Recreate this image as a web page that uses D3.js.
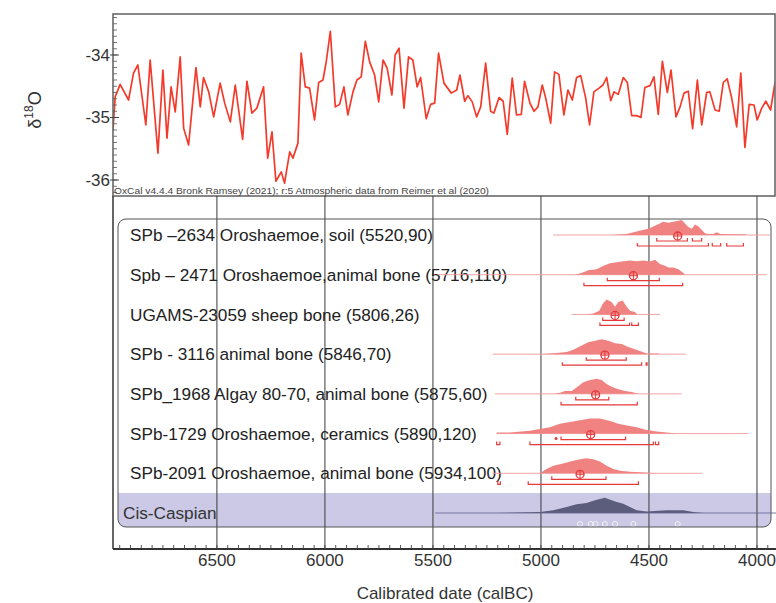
<!DOCTYPE html>
<html><head><meta charset="utf-8">
<script src="https://cdn.jsdelivr.net/npm/d3@7/dist/d3.min.js"></script>
<style>body{margin:0;background:#fff}svg{display:block}text{font-family:"Liberation Sans",Arial,sans-serif}</style>
</head><body><svg id="c" width="776" height="603"></svg>
<script>
// ---------- DATA ----------
const xTickValues = [6500, 6000, 5500, 5000, 4500, 4000];
const yTickValues = [-34, -35, -36];
const xTitle = "Calibrated date (calBC)";
const creditText = "OxCal v4.4.4 Bronk Ramsey (2021); r:5 Atmospheric data from Reimer et al (2020)";

// δ18O curve: calBC year, value
const d18oYears = [6981,6971,6948,6909,6886,6866,6829,6809,6773,6750,6731,6712,6693,6670,6654,6631,6597,6577,6562,6538,6515,6485,6464,6438,6415,6381,6361,6338,6315,6284,6265,6245,6227,6202,6187,6163,6148,6125,6110,6091,6071,6048,6029,6009,5994,5975,5952,5932,5912,5894,5870,5852,5832,5813,5793,5770,5751,5731,5712,5690,5675,5657,5634,5613,5593,5573,5557,5531,5511,5492,5474,5449,5415,5390,5375,5353,5338,5318,5298,5279,5256,5233,5218,5194,5175,5156,5133,5113,5091,5076,5051,5032,5014,4994,4978,4955,4937,4917,4894,4875,4855,4835,4816,4793,4775,4755,4731,4713,4696,4677,4662,4642,4619,4600,4580,4557,4537,4519,4495,4477,4457,4438,4415,4398,4375,4356,4338,4318,4298,4276,4256,4233,4218,4194,4175,4156,4138,4117,4094,4075,4056,4036,4014,3999,3978,3959,3937,3916];
const d18oValues = [-35.2,-34.67,-34.47,-34.72,-34.29,-34.16,-35.12,-34.08,-35.57,-34.24,-35.33,-34.51,-34.91,-34.03,-35.17,-35.44,-34.20,-34.83,-34.36,-34.59,-34.99,-34.45,-34.77,-35.07,-34.48,-35.35,-34.42,-34.93,-34.85,-34.51,-35.65,-35.23,-36.02,-35.87,-36.05,-35.55,-35.65,-35.41,-33.97,-34.51,-34.53,-35.04,-34.44,-34.40,-34.11,-33.62,-34.83,-34.79,-34.51,-34.96,-34.59,-34.40,-34.35,-33.78,-34.11,-34.32,-34.75,-34.08,-34.21,-34.64,-34.00,-33.89,-34.85,-34.03,-34.08,-34.51,-34.36,-35.02,-34.79,-34.77,-33.97,-34.45,-34.61,-34.56,-34.32,-34.74,-34.65,-34.75,-34.99,-34.83,-34.13,-34.90,-34.93,-34.68,-34.74,-35.27,-34.37,-34.96,-34.95,-34.42,-34.77,-34.90,-34.83,-34.48,-34.69,-35.09,-34.27,-34.31,-34.96,-34.56,-34.72,-34.36,-34.33,-34.69,-35.12,-34.59,-34.53,-34.48,-34.36,-34.73,-34.59,-34.63,-34.36,-34.44,-34.97,-34.97,-35.00,-34.52,-34.49,-34.35,-34.95,-34.10,-34.60,-34.24,-34.99,-34.83,-34.61,-34.58,-35.18,-34.40,-35.12,-34.60,-34.59,-34.88,-34.90,-34.44,-34.38,-34.69,-35.15,-34.29,-35.48,-34.79,-34.80,-35.04,-34.85,-34.74,-34.88,-34.43];

const sampleLabels = [
  "SPb \u20132634 Oroshaemoe, soil (5520,90)",
  "Spb \u2013 2471 Oroshaemoe,animal bone (5716,110)",
  "UGAMS-23059 sheep bone (5806,26)",
  "SPb - 3116 animal bone (5846,70)",
  "SPb_1968 Algay 80-70, animal bone (5875,60)",
  "SPb-1729 Oroshaemoe, ceramics (5890,120)",
  "SPb-2091 Oroshaemoe, animal bone (5934,100)"
];
const sumLabel = "Cis-Caspian";

// baseline extent [from, to] (calBC)
const sampleBaselines = [[4944,3940],[5480,3955],[4858,4449],[5224,4329],[5213,4349],[5205,4040],[5225,4253]];
// mean (marker) position
const sampleMeans = [4367, 4572, 4657, 4704, 4747, 4770, 4819];
// probability densities: [year, relative height]
const sampleDensities = [
  [[4680,0],[4603,0.07],[4549,0.26],[4503,0.42],[4457,0.72],[4434,0.88],[4410,0.81],[4387,0.88],[4364,0.95],[4349,1.0],[4333,0.77],[4318,0.53],[4302,0.42],[4287,0.70],[4272,0.58],[4256,0.35],[4241,0.12],[4225,0.07],[4202,0.07],[4186,0.19],[4171,0.07],[4110,0.05],[4055,0.05],[4048,0]],
  [[4843,0],[4812,0.12],[4781,0.29],[4742,0.36],[4711,0.60],[4680,0.76],[4649,0.83],[4619,0.90],[4588,0.95],[4557,0.90],[4526,0.95],[4495,0.88],[4472,1.0],[4449,0.71],[4426,0.60],[4410,0.48],[4387,0.48],[4364,0.36],[4341,0.12],[4333,0]],
  [[4789,0],[4758,0.07],[4730,0.24],[4714,0.71],[4696,1.0],[4673,0.83],[4657,0.52],[4642,0.83],[4622,0.93],[4603,0.52],[4588,0.24],[4565,0.17],[4554,0]],
  [[5005,0],[4927,0.08],[4881,0.15],[4850,0.30],[4812,0.57],[4781,0.79],[4750,0.89],[4719,1.0],[4688,0.89],[4657,0.72],[4626,0.68],[4596,0.47],[4572,0.36],[4542,0.21],[4511,0.04],[4457,0.04],[4449,0]],
  [[4940,0],[4912,0.07],[4889,0.19],[4858,0.19],[4835,0.42],[4804,0.77],[4773,0.93],[4742,1.0],[4719,0.93],[4696,0.65],[4673,0.47],[4642,0.30],[4611,0.19],[4580,0.12],[4549,0]],
  [[5205,0.07],[5143,0.07],[5051,0.19],[5005,0.30],[4958,0.42],[4912,0.65],[4866,0.77],[4819,0.88],[4773,1.0],[4727,1.0],[4680,0.84],[4642,0.65],[4603,0.53],[4557,0.42],[4511,0.23],[4464,0.14],[4418,0.07],[4372,0]],
  [[5005,0],[4974,0.28],[4943,0.50],[4912,0.61],[4881,0.72],[4850,0.83],[4819,0.93],[4789,1.0],[4758,0.93],[4727,0.78],[4696,0.50],[4665,0.28],[4634,0.17],[4588,0.11],[4542,0.07],[4457,0]]
];
// 68.2% ranges
const sample1Sigma = [
  [[4464,4322],[4299,4256]],
  [[4693,4452]],
  [[4714,4615]],
  [[4790,4605]],
  [[4839,4686]],
  [[4907,4608]],
  [[4950,4699]]
];
// 95.4% ranges
const sample2Sigma = [
  [[4554,4225],[4207,4168],[4140,4063]],
  [[4801,4344]],
  [[4727,4590],[4580,4549]],
  [[4901,4534],[4513,4509]],
  [[4907,4554]],
  [[5205,5190],[5051,4480],[4470,4455]],
  [[5200,5188],[5059,4549]]
];
// single outlying points
const sample1SigmaDots = [[],[],[],[],[],[4930],[]];

// summed distribution for Cis-Caspian
const sumBaseline = [5490, 3912];
const sumDensity = [[5205,0],[5005,0.06],[4943,0.17],[4881,0.38],[4835,0.54],[4789,0.63],[4750,0.79],[4704,0.96],[4680,0.83],[4649,0.69],[4619,0.58],[4588,0.38],[4557,0.17],[4511,0.10],[4418,0.17],[4341,0.17],[4295,0.06],[4249,0]];

// ---------- LAYOUT ----------
const svg = d3.select("#c");
const L = 113, R = 776, topT = 14, topB = 196, axisY = 549;
const x = d3.scaleLinear().domain([6981, 3912]).range([L, R]);
const y = d3.scaleLinear().domain([-34, -36]).range([55, 180]);
const rowNames = sampleLabels.concat([sumLabel]);
const rowY = d3.scalePoint().domain(d3.range(rowNames.length)).range([235, 513]);
const hScale = d3.scaleLinear().domain([0, 1]).range([0, 15]);

const redLine = "#f43a2a", pink = "#f08282", bracketRed = "#e5393a";
const labelSize = 17.2;

// ---------- TOP PANEL ----------
svg.append("defs").append("clipPath").attr("id", "clipTop")
  .append("rect").attr("x", L).attr("y", topT).attr("width", 775 - L).attr("height", topB - topT);

const line = d3.line().x(d => x(d[0])).y(d => y(d[1]));
svg.append("path")
  .datum(d3.zip(d18oYears, d18oValues))
  .attr("clip-path", "url(#clipTop)")
  .attr("d", line).attr("fill", "none").attr("stroke", redLine)
  .attr("stroke-width", 1.7).attr("stroke-linejoin", "round");

svg.append("rect").attr("x", L).attr("y", topT).attr("width", 775 - L).attr("height", topB - topT)
  .attr("fill", "none").attr("stroke", "#6a6a6a").attr("stroke-width", 1.6);

// y ticks
const minorY = d3.range(-33.4, -36.25, -0.1);
svg.append("g").selectAll("line").data(minorY).join("line")
  .attr("x1", L).attr("x2", L + 4).attr("y1", d => y(d)).attr("y2", d => y(d))
  .attr("stroke", "#555").attr("stroke-width", 0.8);
svg.append("g").selectAll("line").data(yTickValues).join("line")
  .attr("x1", L - 3).attr("x2", L + 6).attr("y1", d => y(d)).attr("y2", d => y(d))
  .attr("stroke", "#444").attr("stroke-width", 1);
svg.append("g").selectAll("text").data(yTickValues).join("text")
  .attr("x", L - 3).attr("y", d => y(d)).attr("dy", "0.35em")
  .attr("text-anchor", "end").attr("font-size", 17).attr("fill", "#333")
  .text(d => d);

const yl = svg.append("text").attr("transform", "translate(41,110) rotate(-90)")
  .attr("text-anchor", "middle").attr("font-size", 18).attr("fill", "#333");
yl.append("tspan").text("\u03b4");
yl.append("tspan").attr("font-size", 12).attr("dy", -8).text("18");
yl.append("tspan").attr("dy", 8).text("O");

svg.append("text").attr("x", L + 1).attr("y", 194).attr("font-size", 9).attr("fill", "#444")
  .attr("textLength", 375).attr("lengthAdjust", "spacingAndGlyphs").text(creditText);

// ---------- BOTTOM PANEL ----------
const boxL = 118, boxR = 771, boxT = 219, boxB = 527, rad = 8;
const bandT = 493;
svg.append("path").attr("d",
  `M${boxL},${bandT} H${boxR} V${boxB - rad} Q${boxR},${boxB} ${boxR - rad},${boxB} H${boxL + rad} Q${boxL},${boxB} ${boxL},${boxB - rad} Z`)
  .attr("fill", "#cbc9e5");

// grid lines
svg.append("g").selectAll("line").data(xTickValues).join("line")
  .attr("x1", d => x(d)).attr("x2", d => x(d)).attr("y1", topB).attr("y2", axisY)
  .attr("stroke", "#3a3a3a").attr("stroke-width", 1);

// rows
const rows = svg.append("g").selectAll("g").data(sampleLabels).join("g")
  .attr("transform", (d, i) => `translate(0,${rowY(i)})`);

rows.append("text").attr("x", 130).attr("y", 0).attr("dy", "0.36em")
  .attr("font-size", labelSize).attr("fill", "#222").text(d => d);

rows.append("line")
  .attr("x1", (d, i) => x(sampleBaselines[i][0])).attr("x2", (d, i) => x(sampleBaselines[i][1]))
  .attr("y1", 0).attr("y2", 0).attr("stroke", "#f29a9a").attr("stroke-width", 0.9);

const area = d3.area().x(d => x(d[0])).y0(0).y1(d => -hScale(d[1])).curve(d3.curveLinear);
rows.append("path").attr("d", (d, i) => area(sampleDensities[i])).attr("fill", pink);

function bracket(g, ranges, dy) {
  g.selectAll(null).data(ranges).join("path")
    .attr("d", r => `M${x(r[0])},${dy - 3} V${dy} H${x(r[1])} V${dy - 3}`)
    .attr("fill", "none").attr("stroke", bracketRed).attr("stroke-width", 1.2);
}
rows.each(function (d, i) {
  const g = d3.select(this);
  bracket(g, sample1Sigma[i], 6);
  bracket(g, sample2Sigma[i], 11);
  g.selectAll(null).data(sample1SigmaDots[i]).join("circle")
    .attr("cx", v => x(v)).attr("cy", 5).attr("r", 1.5).attr("fill", bracketRed);
  const mx = x(sampleMeans[i]);
  g.append("circle").attr("cx", mx).attr("cy", 1).attr("r", 4)
    .attr("fill", "none").attr("stroke", bracketRed).attr("stroke-width", 1.3);
  g.append("path").attr("d", `M${mx - 4},1 H${mx + 4} M${mx},-3 V5`)
    .attr("stroke", bracketRed).attr("stroke-width", 1);
});

// summed row
const sumG = svg.append("g").attr("transform", `translate(0,${rowY(7)})`);
sumG.append("line").attr("x1", x(sumBaseline[0])).attr("x2", x(sumBaseline[1]))
  .attr("y1", 0).attr("y2", 0).attr("stroke", "#6c6c98").attr("stroke-width", 0.9);
sumG.append("path").attr("d", d3.area().x(d => x(d[0])).y0(0).y1(d => -16 * d[1])(sumDensity))
  .attr("fill", "#5c5c7c");
sumG.selectAll(null).data(sampleMeans).join("circle")
  .attr("cx", d => x(d)).attr("cy", 11).attr("r", 2.5)
  .attr("fill", "none").attr("stroke", "#f4f4f8").attr("stroke-width", 1);
sumG.append("text").attr("x", 123).attr("y", 0).attr("dy", "0.36em")
  .attr("font-size", labelSize).attr("fill", "#333").text(sumLabel);

// box
svg.append("rect").attr("x", boxL).attr("y", boxT).attr("width", boxR - boxL).attr("height", boxB - boxT)
  .attr("rx", rad).attr("fill", "none").attr("stroke", "#555").attr("stroke-width", 1);

// left border of lower panel
svg.append("line").attr("x1", L).attr("x2", L).attr("y1", topB).attr("y2", axisY)
  .attr("stroke", "#333").attr("stroke-width", 1.5);

// x axis
svg.append("line").attr("x1", L).attr("x2", R).attr("y1", axisY).attr("y2", axisY)
  .attr("stroke", "#333").attr("stroke-width", 2);
const minorX = d3.range(6950, 3900, -50);
svg.append("g").selectAll("line").data(minorX).join("line")
  .attr("x1", d => x(d)).attr("x2", d => x(d)).attr("y1", axisY).attr("y2", axisY - 4)
  .attr("stroke", "#444").attr("stroke-width", 0.9);
svg.append("g").selectAll("text").data(xTickValues).join("text")
  .attr("x", d => x(d)).attr("y", 560).attr("dy", "0.35em")
  .attr("text-anchor", "middle").attr("font-size", 17).attr("fill", "#333").text(d => d);

svg.append("text").attr("x", 445).attr("y", 593).attr("dy", "0.35em")
  .attr("text-anchor", "middle").attr("font-size", 17).attr("fill", "#333").text(xTitle);
</script></body></html>
